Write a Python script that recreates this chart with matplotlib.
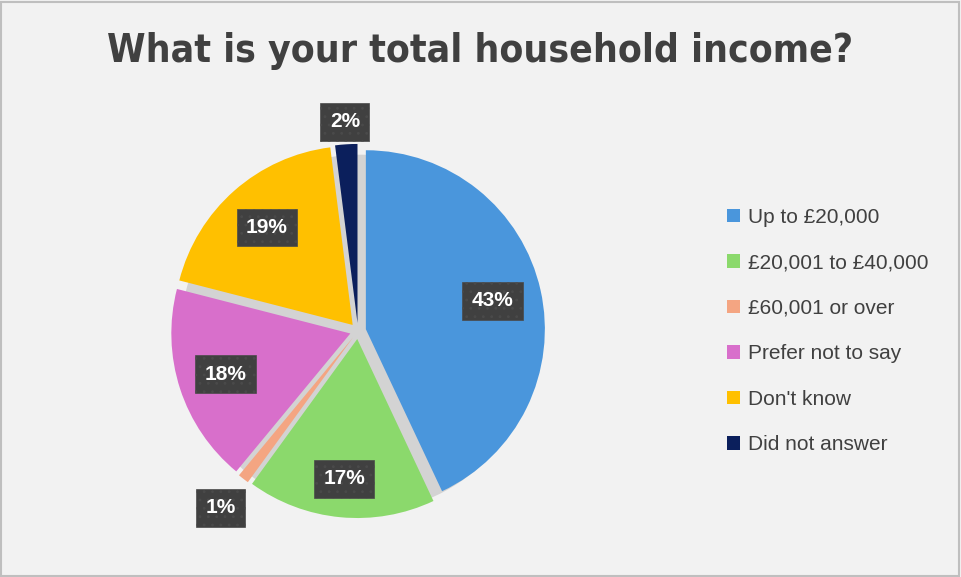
import matplotlib.pyplot as plt
import numpy as np
from matplotlib.patches import Patch

plt.rcParams['font.family'] = ['Liberation Sans', 'DejaVu Sans']
plt.rcParams['hatch.color'] = '#5c5c5c'
plt.rcParams['hatch.linewidth'] = 0.8

# data
categories = ['Up to £20,000', '£20,001 to £40,000', '£60,001 or over',
              'Prefer not to say', "Don't know", 'Did not answer']
shares = [43, 17, 1, 18, 19, 2]
colors = ['#4a96dc', '#8bd96c', '#f4a582', '#d86fcb', '#ffc000', '#0b1f5c']

# label radius per slice (inside / outside)
label_r = [0.77, 0.83, 1.25, 0.78, 0.77, 1.17]

fig = plt.figure(figsize=(9.61, 5.77), dpi=100, facecolor='#f2f2f2')
fig.patches.append(plt.Rectangle((0.001, 0.001), 0.997, 0.995, transform=fig.transFigure,
                                 fill=False, edgecolor='#bfbfbf', lw=1.5))

fig.text(0.5, 0.912, 'What is your total household income?', ha='center', va='center',
         fontsize=28, fontweight='bold', color='#404040', fontstretch='condensed',
         family=['DejaVu Sans'])

# axes placed so the pie centre sits near (358, 331) px, radius ~179 px
R = 179
cx, cy = 358, 577 - 331
lim = 1.45
half = lim * R
ax = fig.add_axes([(cx - half) / 961, (cy - half) / 577, 2 * half / 961, 2 * half / 577])
ax.axis('off')

# shadow under the pie
ax.pie([1], colors=['#d3d3d3'], radius=1.0, center=(0.01, -0.015))

wedges, _ = ax.pie(shares, colors=colors, startangle=90, counterclock=False,
                   explode=[0.045] * len(shares), radius=1.0,
                   wedgeprops=dict(linewidth=0))
ax.set_xlim(-lim, lim)
ax.set_ylim(-lim, lim)
ax.set_aspect('equal')

total = float(sum(shares))
cum = 0
for val, r in zip(shares, label_r):
    mid = 90 - 360 * (cum + val / 2) / total
    cum += val
    a = np.deg2rad(mid)
    ax.text(r * np.cos(a), r * np.sin(a), f'{val}%', ha='center', va='center',
            fontsize=15, fontweight='bold', color='white',
            bbox=dict(boxstyle='square,pad=0.45', facecolor='#404040',
                      edgecolor='#4a4a4a', lw=0.5, hatch='..'))

handles = [Patch(facecolor=c, edgecolor='none') for c in colors]
leg = fig.legend(handles, categories, loc='center left', bbox_to_anchor=(0.737, 0.426),
                 frameon=False, fontsize=15, labelcolor='#404040',
                 handlelength=0.62, handleheight=0.62, handletextpad=0.4,
                 labelspacing=1.27)

fig.savefig('out.png', dpi=100, facecolor=fig.get_facecolor())
